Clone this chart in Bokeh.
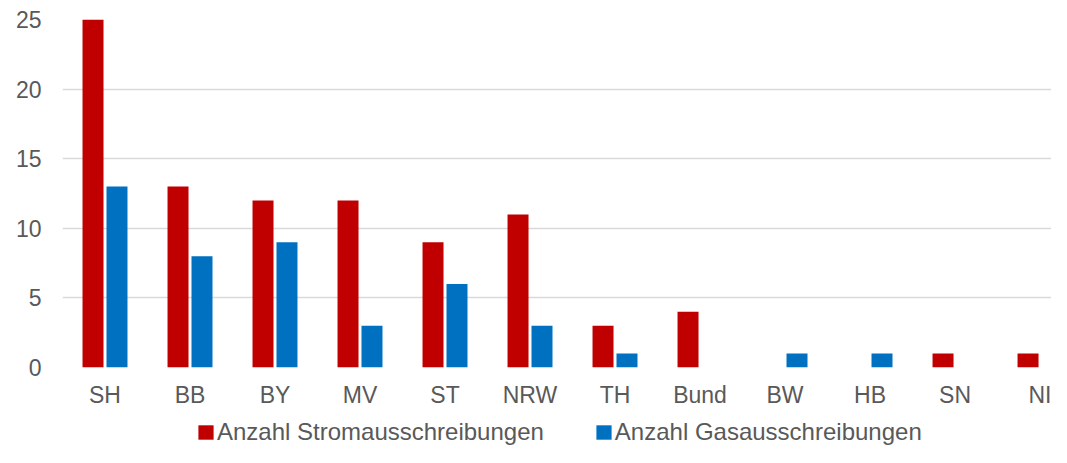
from bokeh.plotting import figure
from bokeh.models import ColumnDataSource, Range1d, FixedTicker, Legend, LegendItem
from bokeh.transform import dodge
from bokeh.layouts import column
from bokeh.embed import file_html
from bokeh.resources import INLINE

categories = ["SH", "BB", "BY", "MV", "ST", "NRW", "TH", "Bund", "BW", "HB", "SN", "NI"]
strom = [25, 13, 12, 12, 9, 11, 3, 4, 0, 0, 1, 1]
gas = [13, 8, 9, 3, 6, 3, 1, 0, 1, 1, 0, 0]
y_ticks = [0, 5, 10, 15, 20, 25]
series_names = ["Anzahl Stromausschreibungen", "Anzahl Gasausschreibungen"]

RED = "#C00000"
BLUE = "#0070C0"
TEXT = "#595959"
GRID = "#D9D9D9"
FONT = "Liberation Sans"

idx = list(range(len(categories)))
src = ColumnDataSource(dict(x=idx, strom=strom, gas=gas))

p = figure(width=1051, height=410, output_backend="svg", toolbar_location=None,
           x_range=Range1d(-0.5, 11.135), y_range=Range1d(0, 25),
           min_border_left=62, min_border_right=0, min_border_top=19, min_border_bottom=41)
p.outline_line_color = None
p.background_fill_color = "white"
p.border_fill_color = "white"

r1 = p.vbar(x=dodge("x", -0.141, range=p.x_range), top="strom", width=0.247, source=src,
            fill_color=RED, line_color=None)
r2 = p.vbar(x=dodge("x", 0.141, range=p.x_range), top="gas", width=0.247, source=src,
            fill_color=BLUE, line_color=None)

p.xgrid.visible = False
p.ygrid.grid_line_color = GRID
p.ygrid.grid_line_width = 1.5
p.ygrid.ticker = FixedTicker(ticks=y_ticks)

p.xaxis.ticker = FixedTicker(ticks=idx)
p.xaxis.major_label_overrides = {i: c for i, c in zip(idx, categories)}
p.yaxis.ticker = FixedTicker(ticks=y_ticks)
for ax in (p.xaxis, p.yaxis):
    ax.axis_line_color = None
    ax.major_tick_line_color = None
    ax.minor_tick_line_color = None
    ax.major_tick_out = 0
    ax.major_tick_in = 0
    ax.major_label_text_font = FONT
    ax.major_label_text_font_size = "23px"
    ax.major_label_text_color = TEXT
p.xaxis.major_label_standoff = 14
p.yaxis.major_label_standoff = 21

# legend strip below the chart (its proxy bars lie outside its visible ranges)
lg = figure(width=1051, height=37, output_backend="svg", toolbar_location=None,
            x_range=Range1d(-3, -2), y_range=Range1d(-3, -2), min_border=0)
lg.outline_line_color = None
lg.axis.visible = False
lg.grid.visible = False
l1 = lg.vbar(x="x", top="strom", width=0.247, source=src, fill_color=RED, line_color=None)
l2 = lg.vbar(x="x", top="gas", width=0.247, source=src, fill_color=BLUE, line_color=None)

legend = Legend(items=[LegendItem(label=series_names[0], renderers=[l1]),
                       LegendItem(label=series_names[1], renderers=[l2])],
                location=(134, 1), orientation="horizontal",
                glyph_width=19, glyph_height=18, label_standoff=2, spacing=50,
                padding=0, margin=0, border_line_color=None, background_fill_alpha=0,
                label_text_font=FONT, label_text_font_size="24px", label_text_color=TEXT)
lg.add_layout(legend, "center")

layout = column(p, lg, spacing=0)
open("out.html", "w").write(file_html(layout, INLINE))
